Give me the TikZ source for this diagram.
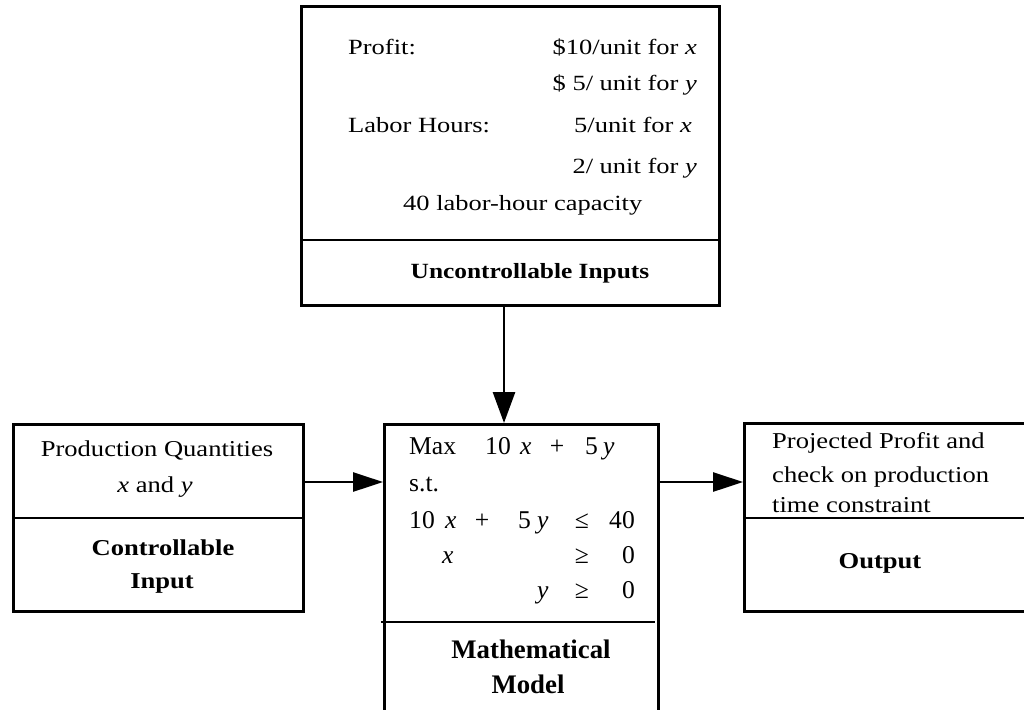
\documentclass[tikz,border=0pt]{standalone}
\usepackage{fontspec}
\setmainfont{Liberation Serif}[FakeStretch=1.22]
\newfontfamily\lfont{Liberation Serif}[FakeStretch=1.17]
\newfontfamily\mfont{Liberation Serif}
\usetikzlibrary{arrows.meta}
\begin{document}
\begin{tikzpicture}[x=1pt,y=-1pt,
  box/.style={draw, line width=2.8pt, inner sep=0pt, anchor=north west},
  divider/.style={line width=2.6pt},
  txt/.style={inner sep=0pt, font=\fontsize{21.7}{26}\selectfont},
  ltxt/.style={inner sep=0pt, font=\lfont\fontsize{22.7}{27}\selectfont},
  mtxt/.style={inner sep=0pt, font=\mfont\fontsize{25.6}{30}\selectfont},
  bt/.style={inner sep=0pt, font=\lfont\fontsize{21.7}{26}\selectfont\bfseries, anchor=base},
  lbt/.style={inner sep=0pt, font=\lfont\fontsize{22.7}{27}\selectfont\bfseries, anchor=base},
  mbt/.style={inner sep=0pt, font=\mfont\fontsize{26.8}{31}\selectfont\bfseries, anchor=base},
  arr/.style={line width=2.8pt, -{Triangle[length=30pt,width=19pt]}},
  darr/.style={line width=2.8pt, -{Triangle[length=31pt,width=22pt]}}]
\useasboundingbox (0,0) rectangle (1024,709);

% boxes
\node[box, minimum width=418pt, minimum height=299pt] (top) at (300,5) {};
\node[box, minimum width=290pt, minimum height=187pt] (left) at (12,423) {};
\node[box, minimum width=274pt, minimum height=330pt] (math) at (383,423) {};
\node[box, minimum width=330pt, minimum height=188pt] (out) at (743,422) {};

% dividers
\draw[divider] (300,240) -- (718,240);
\draw[divider] (12,518) -- (302,518);
\draw[divider] (381,622) -- (655,622);
\draw[divider] (743,518) -- (1030,518);

% top box texts
\node[txt, anchor=base west] (p1) at (348,55) {Profit:};
\node[txt, anchor=base east] (p2) at (697,55) {\$10/unit for \textit{x}};
\node[txt, anchor=base east] (p3) at (697,90) {\$ 5/ unit for \textit{y}};
\node[txt, anchor=base west] (l1) at (348,132) {Labor Hours:};
\node[txt, anchor=base east] (l2) at (692,132) {5/unit for \textit{x}};
\node[txt, anchor=base east] (l3) at (697,173) {2/ unit for \textit{y}};
\node[txt, anchor=base west] (cap) at (403,210) {40 labor-hour capacity};
\node[bt] (unc) at (530,278) {Uncontrollable Inputs};

% left box texts
\node[ltxt, anchor=base] (pq) at (157,456) {Production Quantities};
\node[ltxt, anchor=base] (xy) at (155,492) {\textit{x} and \textit{y}};
\node[lbt] (ci1) at (163,555) {Controllable};
\node[lbt] (ci2) at (162,588) {Input};

% math model texts
\node[mtxt, anchor=base west] (m1) at (409,454) {Max};
\node[mtxt, anchor=base west] (m2) at (485,454) {10};
\node[mtxt, anchor=base west] (m3) at (520,454) {\textit{x}};
\node[mtxt, anchor=base] (m4) at (557,454) {+};
\node[mtxt, anchor=base west] (m5) at (585,454) {5};
\node[mtxt, anchor=base west] (m6) at (603,454) {\textit{y}};
\node[mtxt, anchor=base west] (st) at (409,491) {s.t.};
\node[mtxt, anchor=base west] (c1) at (409,528) {10};
\node[mtxt, anchor=base west] (c2) at (445,528) {\textit{x}};
\node[mtxt, anchor=base] (c3) at (482,528) {+};
\node[mtxt, anchor=base west] (c4) at (518,528) {5};
\node[mtxt, anchor=base west] (c5) at (537,528) {\textit{y}};
\node[mtxt, anchor=base] (c6) at (582,528) {≤};
\node[mtxt, anchor=base east] (c7) at (635,528) {40};
\node[mtxt, anchor=base west] (d1) at (442,563) {\textit{x}};
\node[mtxt, anchor=base] (d2) at (582,563) {≥};
\node[mtxt, anchor=base east] (d3) at (635,563) {0};
\node[mtxt, anchor=base west] (e1) at (537,598) {\textit{y}};
\node[mtxt, anchor=base] (e2) at (582,598) {≥};
\node[mtxt, anchor=base east] (e3) at (635,598) {0};
\node[mbt] (mm1) at (531,658) {Mathematical};
\node[mbt] (mm2) at (528,693) {Model};

% output texts
\node[ltxt, anchor=base west] (o1) at (772,448) {Projected Profit and};
\node[ltxt, anchor=base west] (o2) at (772,482) {check on production};
\node[ltxt, anchor=base west] (o3) at (772,512) {time constraint};
\node[lbt] (outl) at (880,568) {Output};

% connectors
\coordinate (ay) at (0,482);
\coordinate (dx) at (504,0);
\draw[arr] (left.east |- ay) -- (math.west |- ay);
\draw[arr] (math.east |- ay) -- (out.west |- ay);
\draw[darr] (top.south -| dx) -- (math.north -| dx);
\end{tikzpicture}
\end{document}
